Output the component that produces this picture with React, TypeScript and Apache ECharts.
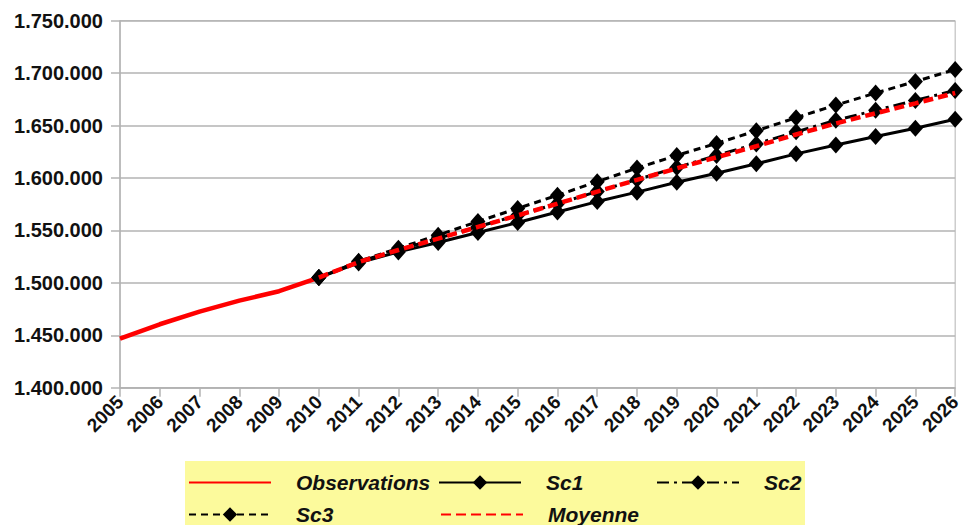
import React, { useEffect, useRef } from "react";
import * as echarts from "echarts";

const years = [
  "2005", "2006", "2007", "2008", "2009", "2010", "2011", "2012", "2013", "2014", "2015",
  "2016", "2017", "2018", "2019", "2020", "2021", "2022", "2023", "2024", "2025", "2026",
];

const observations = [1446800, 1460500, 1472500, 1483000, 1492000, 1505000,
  null, null, null, null, null, null, null, null, null, null, null, null, null, null, null, null];

const sc1 = [null, null, null, null, null,
  1505000, 1519000, 1529500, 1538500, 1548000, 1557500, 1567500, 1577500, 1586500,
  1596000, 1604500, 1613500, 1623000, 1631500, 1639500, 1647500, 1656000];

const sc2 = [null, null, null, null, null,
  1505000, 1520000, 1531500, 1542500, 1553500, 1564500, 1575500, 1587000, 1598500,
  1610000, 1621500, 1632500, 1644000, 1655000, 1664500, 1674000, 1683500];

const sc3 = [null, null, null, null, null,
  1505000, 1520500, 1533000, 1545500, 1558500, 1571000, 1583500, 1596500, 1609500,
  1621500, 1633000, 1645000, 1657500, 1669500, 1681000, 1692000, 1703500];

const moyenne = [null, null, null, null, null,
  1505000, 1519800, 1531300, 1542200, 1553300, 1564300, 1575500, 1587000, 1598200,
  1609200, 1619700, 1630300, 1641500, 1652000, 1661700, 1671200, 1681000];

const yMin = 1400000;
const yMax = 1750000;
const yStep = 50000;

const fmt = (v: number) => String(v).replace(/\B(?=(\d{3})+(?!\d))/g, ".");

const GRID = "#b3b3b3";
const FONT = "Liberation Sans, Arial, sans-serif";

export default function App() {
  const ref = useRef<HTMLDivElement>(null);
  useEffect(() => {
    if (!ref.current) return;
    const chart = echarts.init(ref.current, null, { renderer: "svg" });
    const legendText = {
      fontFamily: FONT,
      fontSize: 21,
      fontStyle: "italic" as const,
      fontWeight: "bold" as const,
      color: "#111",
      padding: [0, 0, 0, 20],
    };
    const mkLegend = (name: string, left: number, top: number, noSymbol = false) => ({
      data: [name],
      left,
      top,
      padding: 0,
      itemWidth: 82,
      itemHeight: 18,
      textStyle: legendText,
      selectedMode: false,
      ...(noSymbol
        ? { itemStyle: { color: "rgba(0,0,0,0)", opacity: 0, borderWidth: 0 } }
        : {}),
    });
    chart.setOption({
      animation: false,
      backgroundColor: "#fff",
      graphic: [
        {
          type: "rect",
          z: -1,
          shape: { x: 185, y: 461, width: 620, height: 70 },
          style: { fill: "#fcfa9c" },
        },
      ],
      legend: [
        mkLegend("Observations", 188, 472, true),
        mkLegend("Sc1", 438, 472),
        mkLegend("Sc2", 656, 472),
        mkLegend("Sc3", 188, 504),
        mkLegend("Moyenne", 440, 504, true),
      ],
      grid: {
        left: 120,
        right: 1,
        top: 20.7,
        bottom: 137.3,
        show: true,
        borderColor: GRID,
        borderWidth: 1,
      },
      xAxis: {
        type: "category",
        data: years,
        boundaryGap: false,
        axisLine: { lineStyle: { color: GRID, width: 1.5 } },
        axisTick: { show: true, length: 9, lineStyle: { color: GRID, width: 1.5 }, interval: 0 },
        axisLabel: {
          interval: 0,
          rotate: 45,
          margin: 11,
          fontFamily: FONT,
          fontSize: 19,
          fontWeight: "bold",
          color: "#111",
        },
        splitLine: { show: false },
      },
      yAxis: {
        type: "value",
        min: yMin,
        max: yMax,
        interval: yStep,
        axisLine: { show: true, lineStyle: { color: GRID, width: 1.5 } },
        axisTick: { show: true, length: 9, lineStyle: { color: GRID, width: 1.5 } },
        axisLabel: {
          margin: 17,
          fontFamily: FONT,
          fontSize: 20,
          fontWeight: "bold",
          color: "#111",
          formatter: (v: number) => fmt(v),
        },
        splitLine: { show: true, lineStyle: { color: GRID, width: 1.5 } },
      },
      series: [
        {
          name: "Observations",
          type: "line",
          data: observations,
          symbol: "none",
          color: "#ff0000",
          lineStyle: { color: "#ff0000", width: 4.5 },
          z: 3,
        },
        {
          name: "Sc1",
          type: "line",
          data: sc1,
          symbol: "diamond",
          symbolSize: [15, 17],
          color: "#000",
          itemStyle: { color: "#000" },
          lineStyle: { color: "#000", width: 3 },
          z: 4,
        },
        {
          name: "Sc2",
          type: "line",
          data: sc2,
          symbol: "diamond",
          symbolSize: [15, 17],
          color: "#000",
          itemStyle: { color: "#000" },
          lineStyle: { color: "#000", width: 3, type: [12, 5, 3, 5] },
          z: 4,
        },
        {
          name: "Sc3",
          type: "line",
          data: sc3,
          symbol: "diamond",
          symbolSize: [15, 17],
          color: "#000",
          itemStyle: { color: "#000" },
          lineStyle: { color: "#000", width: 3, type: [7, 5] },
          z: 4,
        },
        {
          name: "Moyenne",
          type: "line",
          data: moyenne,
          symbol: "none",
          color: "#ff0000",
          lineStyle: { color: "#ff0000", width: 4.5, type: [10, 5] },
          z: 5,
        },
      ],
    });
    return () => chart.dispose();
  }, []);
  return (
    <div
      ref={ref}
      style={{ position: "fixed", left: 0, top: 0, width: 964, height: 525, background: "#fff" }}
    />
  );
}
